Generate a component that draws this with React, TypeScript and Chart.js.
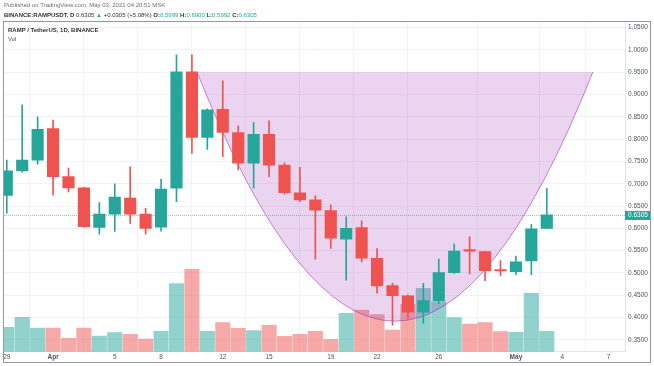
import React, { useEffect, useRef } from 'react';
import { Chart, registerables } from 'chart.js';

Chart.register(...registerables);

// ---- data ----
const dates = [
  '2021-03-29', '2021-03-30', '2021-03-31', '2021-04-01', '2021-04-02', '2021-04-03',
  '2021-04-04', '2021-04-05', '2021-04-06', '2021-04-07', '2021-04-08', '2021-04-09',
  '2021-04-10', '2021-04-11', '2021-04-12', '2021-04-13', '2021-04-14', '2021-04-15',
  '2021-04-16', '2021-04-17', '2021-04-18', '2021-04-19', '2021-04-20', '2021-04-21',
  '2021-04-22', '2021-04-23', '2021-04-24', '2021-04-25', '2021-04-26', '2021-04-27',
  '2021-04-28', '2021-04-29', '2021-04-30', '2021-05-01', '2021-05-02', '2021-05-03',
];
const opens = [
  0.674, 0.729, 0.753, 0.824, 0.716, 0.691, 0.602, 0.632, 0.668, 0.632, 0.603, 0.690,
  0.951, 0.804, 0.867, 0.815, 0.746, 0.811, 0.742, 0.680, 0.664, 0.640, 0.576, 0.602,
  0.533, 0.472, 0.449, 0.412, 0.438, 0.501, 0.551, 0.548, 0.506, 0.503, 0.527, 0.5999,
];
const highs = [
  0.753, 0.877, 0.850, 0.843, 0.735, 0.692, 0.658, 0.700, 0.738, 0.645, 0.710, 0.989,
  0.989, 0.868, 0.931, 0.830, 0.837, 0.841, 0.747, 0.737, 0.673, 0.653, 0.626, 0.617,
  0.555, 0.477, 0.451, 0.477, 0.531, 0.565, 0.581, 0.549, 0.528, 0.538, 0.609, 0.690,
];
const lows = [
  0.634, 0.726, 0.744, 0.675, 0.682, 0.603, 0.587, 0.593, 0.611, 0.587, 0.594, 0.660,
  0.768, 0.777, 0.761, 0.731, 0.690, 0.716, 0.677, 0.660, 0.531, 0.555, 0.484, 0.525,
  0.455, 0.383, 0.398, 0.387, 0.431, 0.499, 0.498, 0.483, 0.494, 0.496, 0.496, 0.5992,
];
const closes = [
  0.729, 0.753, 0.822, 0.716, 0.691, 0.604, 0.632, 0.670, 0.632, 0.600, 0.688, 0.951,
  0.804, 0.866, 0.815, 0.746, 0.811, 0.742, 0.680, 0.664, 0.641, 0.578, 0.600, 0.533,
  0.471, 0.449, 0.412, 0.438, 0.501, 0.549, 0.549, 0.505, 0.5045, 0.525, 0.599, 0.6305,
];
// volume, thousands of RAMP
const volumes = [
  244, 344, 237, 237, 134, 237, 157, 190, 174, 127, 204, 680,
  824, 204, 290, 234, 210, 264, 154, 174, 204, 124, 384, 417,
  370, 217, 474, 634, 500, 340, 277, 290, 200, 194, 584, 204,
];
const priceTicks = [0.35, 0.4, 0.45, 0.5, 0.55, 0.6, 0.65, 0.7, 0.75, 0.8, 0.85, 0.9, 0.95, 1.0, 1.05];
const xTickDates = [
  '2021-03-29', '2021-04-01', '2021-04-05', '2021-04-08', '2021-04-12', '2021-04-15',
  '2021-04-19', '2021-04-22', '2021-04-26', '2021-05-01', '2021-05-04', '2021-05-07',
];
const xTickLabels = ['29', 'Apr', '5', '8', '12', '15', '19', '22', '26', 'May', '4', '7'];
const boldTickLabels = ['Apr', 'May'];
// cup (arc drawing): start, bottom, end — days after Apr 1 and price
const cupDays = [9.33, 22.16, 34.99];
const cupPrices = [0.9507, 0.392, 0.9507];
const lastPrice = 0.6305;

const BASE = Date.UTC(2021, 3, 1);
const dayOf = (s: string) => (Date.parse(s + 'T00:00:00Z') - BASE) / 86400000;

const GREEN = '#26a69a';
const RED = '#ef5350';
const VOL_GREEN = 'rgba(38,166,154,0.5)';
const VOL_RED = 'rgba(239,83,80,0.5)';
const FONT = '"Liberation Sans", Arial, sans-serif';

export default function App() {
  const ref = useRef<HTMLCanvasElement | null>(null);

  useEffect(() => {
    if (!ref.current) return;
    const xs = dates.map(dayOf);
    const upArr = dates.map((_, i) => closes[i] >= opens[i]);
    const xTickValues = xTickDates.map(dayOf);

    const cupPlugin = {
      id: 'cup',
      afterDatasetDraw(chart: any, args: any) {
        if (args.index !== 0) return;
        const { ctx, chartArea } = chart;
        const xS = chart.scales.x;
        const yS = chart.scales.y;
        const p = cupDays.map((d, i) => ({ x: xS.getPixelForValue(d), y: yS.getPixelForValue(cupPrices[i]) }));
        const mid = { x: (p[0].x + p[2].x) / 2, y: (p[0].y + p[2].y) / 2 };
        const c = { x: 2 * p[1].x - mid.x, y: 2 * p[1].y - mid.y };
        ctx.save();
        ctx.beginPath();
        ctx.rect(chartArea.left, chartArea.top, chartArea.right - chartArea.left, chartArea.bottom - chartArea.top);
        ctx.clip();
        ctx.beginPath();
        ctx.moveTo(p[0].x, p[0].y);
        ctx.quadraticCurveTo(c.x, c.y, p[2].x, p[2].y);
        ctx.closePath();
        ctx.fillStyle = 'rgba(156,39,176,0.2)';
        ctx.fill();
        ctx.beginPath();
        ctx.moveTo(p[0].x, p[0].y);
        ctx.quadraticCurveTo(c.x, c.y, p[2].x, p[2].y);
        ctx.strokeStyle = 'rgba(156,39,176,0.55)';
        ctx.lineWidth = 1;
        ctx.stroke();
        ctx.restore();
      },
      afterDraw(chart: any) {
        const { ctx, chartArea } = chart;
        const yS = chart.scales.y;
        const y = Math.round(yS.getPixelForValue(lastPrice)) + 0.5;
        ctx.save();
        ctx.strokeStyle = 'rgba(38,166,154,0.55)';
        ctx.lineWidth = 1;
        ctx.setLineDash([1, 1]);
        ctx.beginPath();
        ctx.moveTo(chartArea.left, y);
        ctx.lineTo(chartArea.right, y);
        ctx.stroke();
        ctx.setLineDash([]);
        ctx.fillStyle = GREEN;
        ctx.fillRect(chartArea.right, y - 4.5, 26, 9);
        ctx.fillStyle = '#ffffff';
        ctx.font = '6.5px ' + FONT;
        ctx.textBaseline = 'middle';
        ctx.textAlign = 'left';
        ctx.fillText(lastPrice.toFixed(4), chartArea.right + 3, y);
        ctx.restore();
      },
    };

    const chart = new Chart(ref.current, {
      type: 'bar',
      data: {
        datasets: [
          {
            label: 'Vol',
            data: xs.map((x, i) => ({ x, y: volumes[i] })),
            yAxisID: 'yv',
            backgroundColor: upArr.map((u) => (u ? VOL_GREEN : VOL_RED)),
            barThickness: 14.4,
            grouped: false,
            order: 3,
            borderWidth: 0,
          } as any,
          {
            label: 'wick',
            data: xs.map((x, i) => ({ x, y: [lows[i], highs[i]] })),
            yAxisID: 'y',
            backgroundColor: upArr.map((u) => (u ? GREEN : RED)),
            barThickness: 1,
            grouped: false,
            order: 2,
            borderWidth: 0,
            borderSkipped: false,
          } as any,
          {
            label: 'body',
            data: xs.map((x, i) => ({ x, y: [opens[i], closes[i]] })),
            yAxisID: 'y',
            backgroundColor: upArr.map((u) => (u ? GREEN : RED)),
            barThickness: 11.5,
            grouped: false,
            order: 1,
            borderWidth: 0,
            borderSkipped: false,
            minBarLength: 1.5,
          } as any,
        ],
      },
      options: {
        animation: false,
        responsive: false,
        events: [],
        layout: { padding: { left: 4, top: 21, right: 3, bottom: 3 } },
        plugins: { legend: { display: false }, tooltip: { enabled: false } },
        scales: {
          x: {
            type: 'linear',
            min: -3.18,
            max: 37.07,
            offset: false,
            grid: { color: '#f0f3fa', drawTicks: false },
            border: { color: '#e0e3eb' },
            ticks: {
              autoSkip: false,
              maxRotation: 0,
              padding: 2,
              color: '#4c525e',
              font: (ctx: any) => {
                const idx = xTickValues.indexOf(ctx.tick?.value);
                const lbl = idx >= 0 ? xTickLabels[idx] : '';
                return { family: FONT, size: 6.5, weight: boldTickLabels.includes(lbl) ? 'bold' : 'normal' };
              },
              callback: (v: any) => {
                const idx = xTickValues.indexOf(v);
                return idx >= 0 ? xTickLabels[idx] : '';
              },
            },
            afterBuildTicks: (s: any) => {
              s.ticks = xTickValues.map((v) => ({ value: v }));
            },
            afterFit: (s: any) => {
              s.height = 11.3;
              s.paddingLeft = 0;
              s.paddingRight = 0;
            },
          } as any,
          y: {
            type: 'linear',
            position: 'right',
            min: 0.32354,
            max: 1.06502,
            grid: { color: '#f0f3fa', drawTicks: false },
            border: { color: '#e0e3eb' },
            ticks: {
              padding: 3,
              color: '#4c525e',
              font: { family: FONT, size: 6.5 },
              callback: (v: any) => Number(v).toFixed(4),
            },
            afterBuildTicks: (s: any) => {
              s.ticks = priceTicks.map((v) => ({ value: v }));
            },
            afterFit: (s: any) => {
              s.width = 26;
              s.paddingTop = 0;
              s.paddingBottom = 0;
            },
          } as any,
          yv: {
            type: 'linear',
            display: false,
            min: 0,
            max: 3307,
          },
        },
      },
      plugins: [cupPlugin],
    });
    return () => chart.destroy();
  }, []);

  const txt: React.CSSProperties = {
    position: 'absolute',
    whiteSpace: 'nowrap',
    fontFamily: FONT,
    lineHeight: 1,
  };

  return (
    <div style={{ position: 'fixed', left: 0, top: 0, width: 654, height: 366, background: '#ffffff', overflow: 'hidden' }}>
      <canvas ref={ref} width={654} height={366} style={{ position: 'absolute', left: 0, top: 0, width: 654, height: 366 }} />
      <div style={{ ...txt, left: 4, top: 2, fontSize: 6, color: '#6a6d78' }}>
        Published on TradingView.com, May 03, 2021 04:20:51 MSK
      </div>
      <div style={{ ...txt, left: 4, top: 12, fontSize: 6, color: '#333' }}>
        <b>BINANCE:RAMPUSDT, D</b> 0.6305 <span style={{ color: GREEN }}>▲</span> +0.0305 (+5.08%){' '}
        <b>O:</b><span style={{ color: GREEN }}>0.5999</span> <b>H:</b><span style={{ color: GREEN }}>0.6900</span>{' '}
        <b>L:</b><span style={{ color: GREEN }}>0.5992</span> <b>C:</b><span style={{ color: GREEN }}>0.6305</span>
      </div>
      <div style={{ ...txt, left: 8, top: 26.5, fontSize: 6, fontWeight: 'bold', color: '#333' }}>
        RAMP / TetherUS, 1D, BINANCE
      </div>
      <div style={{ ...txt, left: 8, top: 35.5, fontSize: 6, color: '#555' }}>Vol</div>
      <div
        style={{
          position: 'absolute',
          left: 3,
          top: 21,
          width: 648,
          height: 342,
          border: '1px solid #9598a1',
          boxSizing: 'border-box',
          pointerEvents: 'none',
        }}
      />
    </div>
  );
}
